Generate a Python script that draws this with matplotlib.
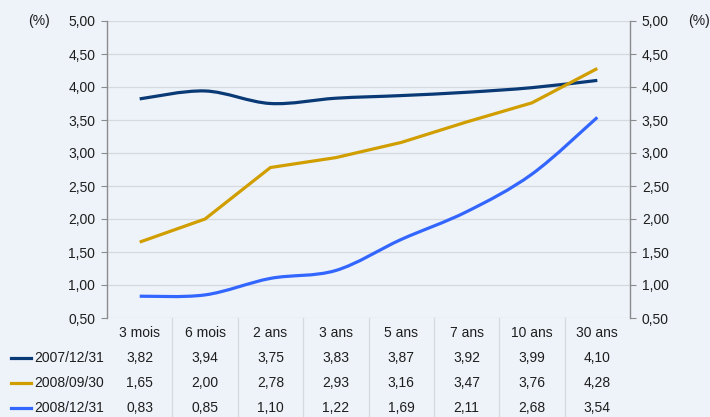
import numpy as np
import matplotlib
matplotlib.use("Agg")
import matplotlib.pyplot as plt
from matplotlib.path import Path
from matplotlib.patches import PathPatch
from matplotlib.transforms import blended_transform_factory

plt.rcParams['font.family'] = ['Liberation Sans', 'DejaVu Sans']

maturities = ["3 mois", "6 mois", "2 ans", "3 ans", "5 ans", "7 ans", "10 ans", "30 ans"]
dates = ["2007/12/31", "2008/09/30", "2008/12/31"]
rates_2007_12 = [3.82, 3.94, 3.75, 3.83, 3.87, 3.92, 3.99, 4.10]
rates_2008_09 = [1.65, 2.00, 2.78, 2.93, 3.16, 3.47, 3.76, 4.28]
rates_2008_12 = [0.83, 0.85, 1.10, 1.22, 1.69, 2.11, 2.68, 3.54]
series = [rates_2007_12, rates_2008_09, rates_2008_12]
colors = ["#0A3A75", "#D19E00", "#3366FF"]
smoothed = [True, False, True]

bg = "#EEF3FA"
txt = "#1E1E1E"
grid_c = "#D6D9DE"


def smooth_path(x, y):
    # catmull-rom style bezier through the points (like excel "smoothed line")
    x = np.asarray(x, float)
    y = np.asarray(y, float)
    verts = [(x[0], y[0])]
    codes = [Path.MOVETO]
    n = len(x)
    for i in range(n - 1):
        p0 = i - 1 if i > 0 else i
        p3 = i + 2 if i + 2 < n else i + 1
        c1 = (x[i] + (x[i + 1] - x[p0]) / 6, y[i] + (y[i + 1] - y[p0]) / 6)
        c2 = (x[i + 1] - (x[p3] - x[i]) / 6, y[i + 1] - (y[p3] - y[i]) / 6)
        verts += [c1, c2, (x[i + 1], y[i + 1])]
        codes += [Path.CURVE4] * 3
    return Path(verts, codes)


fig = plt.figure(figsize=(7.1, 4.17), dpi=100, facecolor=bg)
ax = fig.add_axes([107 / 710, 1 - 318 / 417, 523 / 710, 297 / 417])
ax.set_facecolor(bg)

xs = np.arange(len(maturities))
for vals, c, sm in zip(series, colors, smoothed):
    if sm:
        ax.add_patch(PathPatch(smooth_path(xs, vals), fill=False, edgecolor=c,
                               lw=2.3, capstyle="butt", zorder=3))
    else:
        ax.plot(xs, vals, color=c, lw=2.3, solid_capstyle="butt",
                solid_joinstyle="miter", zorder=3)

ax.set_xlim(-0.5, len(maturities) - 0.5)
ax.set_ylim(0.5, 5.0)
yt = np.arange(0.5, 5.01, 0.5)
ax.set_yticks(yt)
ax.set_yticklabels([f"{v:.2f}".replace(".", ",") for v in yt], fontsize=10, color=txt)
ax.set_xticks([])
ax.yaxis.grid(True, color=grid_c, lw=0.9)
ax.set_axisbelow(True)
ax.tick_params(axis="y", direction="out", length=4.5, color="#8C8C8C", pad=4,
               left=True, right=True, labelleft=True, labelright=True)
for s in ["top", "bottom"]:
    ax.spines[s].set_visible(False)
for s in ["left", "right"]:
    ax.spines[s].set_color("#8C8C8C")
    ax.spines[s].set_linewidth(1.0)

fig.text(28 / 710, 1 - 21 / 417, "(%)", fontsize=10, color=txt, va="center", ha="left")
fig.text(688 / 710, 1 - 21 / 417, "(%)", fontsize=10, color=txt, va="center", ha="left")

# data table under the chart
tr = blended_transform_factory(ax.transData, fig.transFigure)
for i in range(len(maturities) - 1):
    ax.plot([i + 0.5, i + 0.5], [0, 1 - 318 / 417], transform=tr, color=grid_c,
            lw=0.9, clip_on=False)

row_y = [333, 358, 383, 408]
for i, m in enumerate(maturities):
    ax.text(i, 1 - row_y[0] / 417, m, transform=tr, ha="center", va="center",
            fontsize=10, color=txt)
for r, (d, vals, c) in enumerate(zip(dates, series, colors)):
    yy = 1 - row_y[r + 1] / 417
    fig.lines.append(plt.Line2D([11 / 710, 31 / 710], [yy, yy], transform=fig.transFigure,
                                color=c, lw=2.3))
    fig.text(34 / 710, yy, d, fontsize=10, color=txt, va="center", ha="left")
    for i, v in enumerate(vals):
        ax.text(i, yy, f"{v:.2f}".replace(".", ","), transform=tr, ha="center",
                va="center", fontsize=10, color=txt)

fig.savefig("out.png", dpi=100, facecolor=bg)
